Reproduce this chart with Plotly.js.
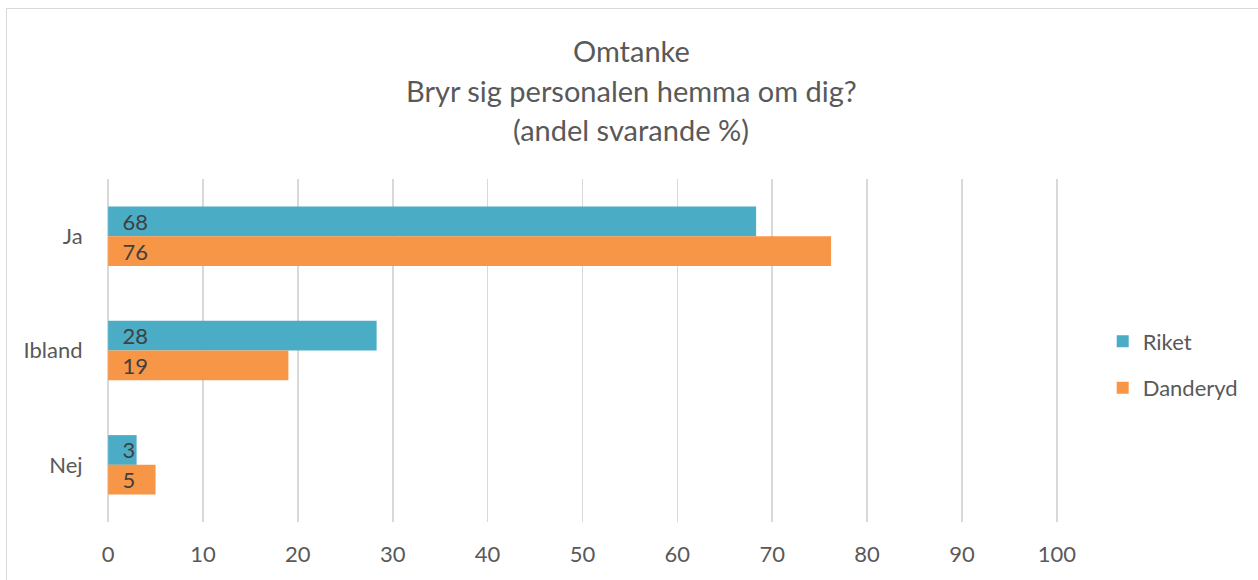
<!DOCTYPE html>
<html>
<head>
<meta charset="utf-8">
<script src="https://cdn.plot.ly/plotly-3.0.1.min.js"></script>
<style>
html, body { margin: 0; padding: 0; background: #ffffff; overflow: hidden; }
#frame { position: absolute; left: 6px; top: 8px; width: 1300px; height: 600px; border: 1px solid #d9d9d9; box-sizing: border-box; }
#chart { position: absolute; left: 0; top: 0; width: 1258px; height: 580px; }
</style>
</head>
<body>
<div id="frame"></div>
<div id="chart"></div>
<script>
const categories = ["Ja", "Ibland", "Nej"];
const seriesNames = ["Riket", "Danderyd"];
const riket = [68.3, 28.3, 3.0];
const danderyd = [76.2, 19.0, 5.0];
const xTicks = [0, 10, 20, 30, 40, 50, 60, 70, 80, 90, 100];
const titleLines = ["Omtanke", "Bryr sig personalen hemma om dig?", "(andel svarande %)"];

const FONT = "Lato, 'Open Sans', sans-serif";
const colors = ["#4bacc6", "#f79646"];
const pad = "\u00a0\u00a0";

function makeTrace(name, vals, color) {
  return {
    type: "bar",
    orientation: "h",
    name: name,
    legendgroup: name,
    y: categories,
    x: vals,
    marker: { color: color },
    text: vals.map(v => pad + Math.round(v)),
    textposition: "inside",
    insidetextanchor: "start",
    textangle: 0,
    constraintext: "none",
    cliponaxis: false,
    textfont: { family: FONT, size: 22, color: "#404040" },
    hoverinfo: "x+name"
  };
}

const data = [
  makeTrace(seriesNames[0], riket, colors[0]),
  makeTrace(seriesNames[1], danderyd, colors[1])
];

// title lines as separate annotations (Excel-like line spacing)
const titleY = [1.376, 1.259, 1.143];
const annotations = titleLines.map((t, i) => ({
  text: t,
  xref: "paper", yref: "paper",
  x: 0.5515, xanchor: "center",
  y: titleY[i], yanchor: "middle",
  showarrow: false,
  font: { family: FONT, size: 29, color: "#595959" }
}));

const layout = {
  width: 1258,
  height: 580,
  paper_bgcolor: "rgba(0,0,0,0)",
  plot_bgcolor: "rgba(0,0,0,0)",
  margin: { l: 107, r: 200, t: 179, b: 58 },
  font: { family: FONT, color: "#595959", size: 22 },
  annotations: annotations,
  barmode: "group",
  bargap: 0.48,
  bargroupgap: 0,
  xaxis: {
    range: [-0.12, 100.12],
    tickvals: xTicks,
    ticktext: xTicks.map(String),
    showgrid: true,
    gridcolor: "#d9d9d9",
    gridwidth: 1.5,
    zeroline: false,
    showline: false,
    ticks: "outside",
    ticklen: 13,
    tickcolor: "rgba(0,0,0,0)",
    tickfont: { family: FONT, size: 22, color: "#595959" },
    fixedrange: true
  },
  yaxis: {
    type: "category",
    categoryorder: "array",
    categoryarray: categories,
    autorange: "reversed",
    showgrid: false,
    zeroline: false,
    showline: false,
    ticks: "outside",
    ticklen: 19,
    tickcolor: "rgba(0,0,0,0)",
    tickfont: { family: FONT, size: 22, color: "#595959" },
    fixedrange: true
  },
  showlegend: true,
  legend: {
    x: 1.047, xanchor: "left",
    y: 0.458, yanchor: "middle",
    traceorder: "grouped",
    tracegroupgap: 15,
    font: { family: FONT, size: 22, color: "#595959" },
    bgcolor: "rgba(0,0,0,0)"
  }
};

Plotly.newPlot("chart", data, layout, { displayModeBar: false, staticPlot: true });
</script>
</body>
</html>
